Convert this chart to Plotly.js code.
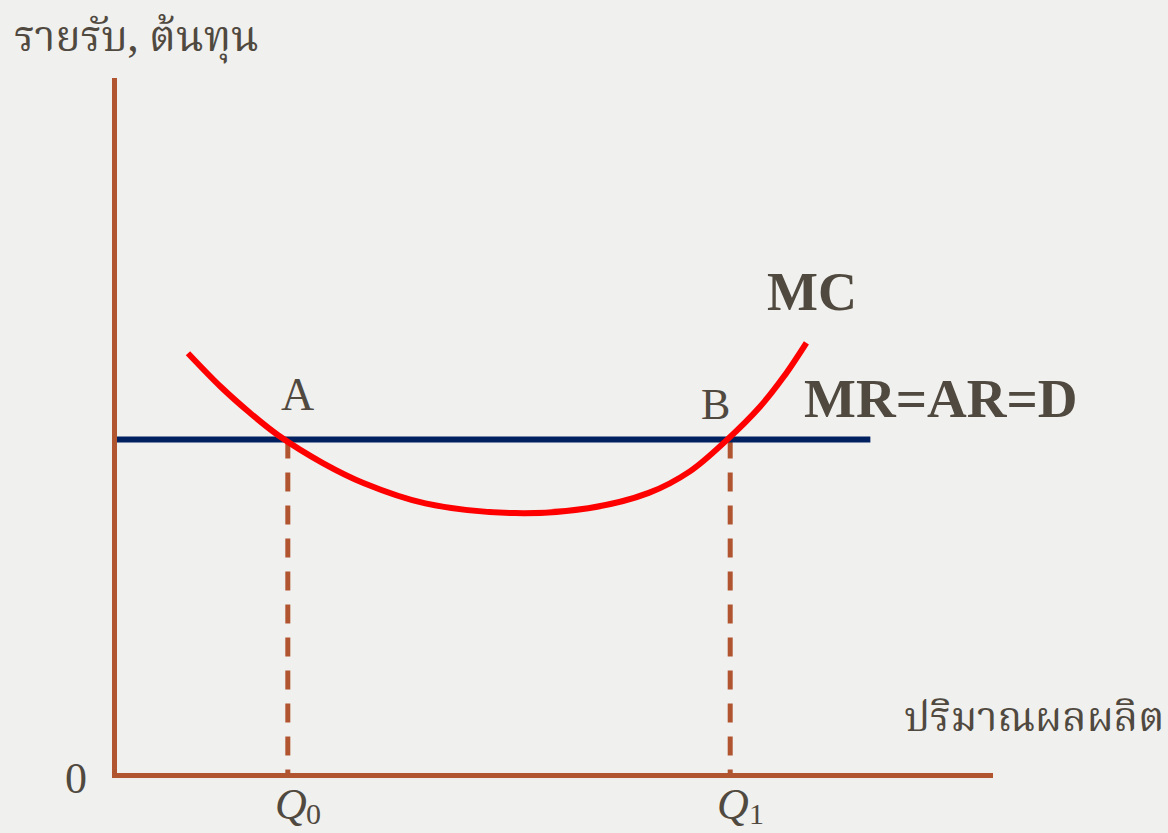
<!DOCTYPE html>
<html>
<head>
<meta charset="utf-8">
<script src="https://cdn.plot.ly/plotly-3.0.1.min.js"></script>
<style>
  html, body { margin: 0; padding: 0; background: #F0F0EE; }
  #chart { width: 1168px; height: 833px; }
</style>
</head>
<body>
<div id="chart"></div>
<script>
// Perfect-competition firm: MC curve against a flat MR = AR = D line
const quantityNames = ['Q', 'Q'];
const quantitySubs = ['0', '1'];
const quantities = [1.95, 7.0];      // Q0, Q1 where MC meets MR
const priceLevel = 4.8;              // MR = AR = D
const demandX = [0, 8.6];

// MC curve, read point by point
const mcX = [0.81, 1.19, 1.51, 1.84, 2.35, 2.82, 3.52, 4.54, 5.38, 6.07, 6.54, 6.96, 7.34, 7.61, 7.87];
const mcY = [6.04, 5.55, 5.19, 4.86, 4.46, 4.17, 3.88, 3.74, 3.81, 4.03, 4.34, 4.79, 5.27, 5.70, 6.19];

const yTitle = 'รายรับ, ต้นทุน';
const xTitle = 'ปริมาณผลผลิต';
const mcLabel = 'MC';
const demandLabel = 'MR=AR=D';
const pointLabels = ['A', 'B'];

// plot box in pixels
const L = 117, T = 78, W = 876, H = 695;
const fx = p => (p - L) / W;
const fy = p => (T + H - p) / H;

const textColor = '#50493F';
const axisColor = '#B05530';
const thaiFont = '"Noto Serif Thai", "Noto Sans Thai", "Noto Sans", serif';
const serif = '"Liberation Serif", "DejaVu Serif", serif';

const traces = [];

// dashed drop lines from each intersection to the quantity axis
quantities.forEach(q => {
  traces.push({
    x: [q, q], y: [priceLevel, 0],
    mode: 'lines', hoverinfo: 'skip',
    line: { color: axisColor, width: 5, dash: '19px,14px' }
  });
});

traces.push({
  x: demandX, y: [priceLevel, priceLevel],
  mode: 'lines', hoverinfo: 'skip',
  line: { color: '#00205F', width: 6 }
});

traces.push({
  x: mcX, y: mcY,
  mode: 'lines', hoverinfo: 'skip',
  line: { color: '#FF0000', width: 6, shape: 'spline', smoothing: 1 }
});

const annotations = [
  { text: yTitle, xref: 'paper', yref: 'paper', x: fx(12), y: fy(40), xanchor: 'left', yanchor: 'middle',
    showarrow: false, font: { family: thaiFont, size: 42, color: textColor } },
  { text: xTitle, xref: 'paper', yref: 'paper', x: fx(1166), y: fy(720), xanchor: 'right', yanchor: 'middle',
    showarrow: false, font: { family: thaiFont, size: 41, color: textColor } },
  { text: '0', xref: 'paper', yref: 'paper', x: fx(76), y: fy(778), xanchor: 'center', yanchor: 'middle',
    showarrow: false, font: { family: serif, size: 44, color: textColor } },
  { text: mcLabel, xref: 'paper', yref: 'paper', x: fx(812), y: fy(292), xanchor: 'center', yanchor: 'middle',
    showarrow: false, font: { family: serif, size: 54, color: textColor, weight: 'bold' } },
  { text: demandLabel, xref: 'paper', yref: 'paper', x: fx(940), y: fy(398), xanchor: 'center', yanchor: 'middle',
    showarrow: false, font: { family: serif, size: 55, color: textColor, weight: 'bold' } },
  { text: pointLabels[0], xref: 'paper', yref: 'paper', x: fx(297), y: fy(394), xanchor: 'center', yanchor: 'middle',
    showarrow: false, font: { family: serif, size: 46, color: textColor } },
  { text: pointLabels[1], xref: 'paper', yref: 'paper', x: fx(715), y: fy(404), xanchor: 'center', yanchor: 'middle',
    showarrow: false, font: { family: serif, size: 44, color: textColor } }
];

// quantity labels: italic Q with a lowered digit beside it
quantities.forEach((q, i) => {
  annotations.push({
    text: '<i>' + quantityNames[i] + '</i>',
    xref: 'x', yref: 'paper', x: q, y: fy(804), xshift: 3, xanchor: 'center', yanchor: 'middle',
    showarrow: false, borderpad: 0, font: { family: serif, size: 44, color: textColor }
  });
  annotations.push({
    text: quantitySubs[i],
    xref: 'x', yref: 'paper', x: q, y: fy(813), xshift: 26, xanchor: 'center', yanchor: 'middle',
    showarrow: false, borderpad: 0, font: { family: serif, size: 30, color: textColor }
  });
});

const layout = {
  width: 1168, height: 833,
  margin: { l: L, r: 1168 - L - W, t: T, b: 833 - T - H, pad: 0 },
  paper_bgcolor: '#F0F0EE',
  plot_bgcolor: 'rgba(0,0,0,0)',
  showlegend: false,
  xaxis: { range: [0, 10], showgrid: false, zeroline: false, showticklabels: false, ticks: '',
           showline: true, linecolor: axisColor, linewidth: 5, fixedrange: true },
  yaxis: { range: [0, 10], showgrid: false, zeroline: false, showticklabels: false, ticks: '',
           showline: true, linecolor: axisColor, linewidth: 5, fixedrange: true },
  annotations: annotations
};

Plotly.newPlot('chart', traces, layout, { displayModeBar: false, staticPlot: true });
</script>
</body>
</html>
